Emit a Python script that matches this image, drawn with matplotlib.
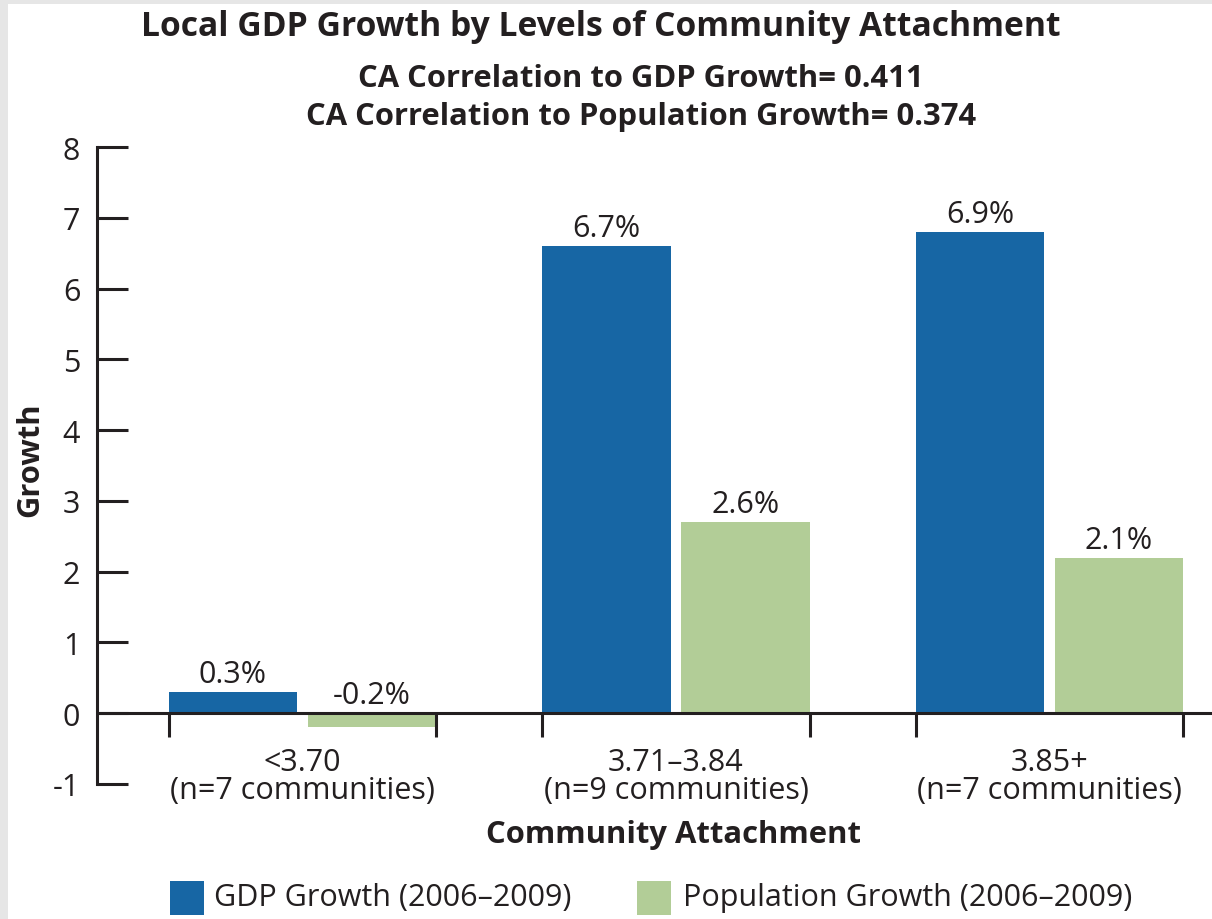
import matplotlib
matplotlib.use('Agg')
import matplotlib.pyplot as plt
import numpy as np
from matplotlib.patches import Rectangle

plt.rcParams['font.family'] = ['Open Sans', 'DejaVu Sans']

# data
groups = ['<3.70\n(n=7 communities)', '3.71\u20133.84\n(n=9 communities)', '3.85+\n(n=7 communities)']
gdp_growth = [0.3, 6.6, 6.8]
pop_growth = [-0.2, 2.7, 2.2]
gdp_labels = ['0.3%', '6.7%', '6.9%']
pop_labels = ['-0.2%', '2.6%', '2.1%']
y_ticks = [-1, 0, 1, 2, 3, 4, 5, 6, 7, 8]
series_names = ['GDP Growth (2006\u20132009)', 'Population Growth (2006\u20132009)']

dark = '#231f20'
blue = '#1766a4'
green = '#b2cd97'
fs = 22

fig = plt.figure(figsize=(12.12, 9.2), dpi=100)
fig.patch.set_facecolor('#e6e6e6')
fig.patches.append(Rectangle((8 / 1212, 0), 1, 1 - 5 / 920, transform=fig.transFigure,
                             facecolor='white', edgecolor='none', zorder=-5))

ax = fig.add_axes([97 / 1212, 1 - 785 / 920, 1 - 97 / 1212, (785 - 148) / 920])
ax.patch.set_alpha(0)
ax.set_zorder(2)

x = np.arange(len(groups))
w = 0.343
off = 0.186
b1 = ax.bar(x - off, gdp_growth, w, color=blue, zorder=2)
b2 = ax.bar(x + off, pop_growth, w, color=green, zorder=2)

for bars, labels in [(b1, gdp_labels), (b2, pop_labels)]:
    for r, lab in zip(bars, labels):
        top = max(r.get_height(), 0)
        ax.annotate(lab, (r.get_x() + r.get_width() / 2, top), xytext=(0, 2),
                    textcoords='offset points', ha='center', va='bottom',
                    fontsize=fs, color=dark)

ax.set_xlim(-0.550, 2.435)
ax.set_ylim(-1, 8)

# zero line and group edge ticks
ax.axhline(0, color=dark, lw=2.2, zorder=3)
edges_l = x - off - w / 2
edges_r = x + off + w / 2
ax.vlines(np.concatenate([edges_l, edges_r]), -0.34, 0, color=dark, lw=2.2, zorder=3)

for xi, g in zip(x, groups):
    ax.text(xi, -0.89, g, ha='center', va='center', fontsize=fs, color=dark, linespacing=0.9)

for s in ['top', 'right', 'bottom']:
    ax.spines[s].set_visible(False)
ax.spines['left'].set_color(dark)
ax.spines['left'].set_linewidth(2.2)
ax.set_xticks([])
ax.set_yticks(y_ticks)
ax.set_yticklabels([str(v) for v in y_ticks])
ax.tick_params(axis='y', direction='in', length=22, width=2.2, color=dark,
               labelsize=fs, labelcolor=dark, pad=12)

fig.text(0.496, 1 - 27 / 920, 'Local GDP Growth by Levels of Community Attachment',
         ha='center', va='center', fontsize=24.2, fontweight='bold', color=dark)
fig.text(0.529, 1 - 79 / 920, 'CA Correlation to GDP Growth= 0.411',
         ha='center', va='center', fontsize=22.3, fontweight='bold', color=dark)
fig.text(0.529, 1 - 117 / 920, 'CA Correlation to Population Growth= 0.374',
         ha='center', va='center', fontsize=22.3, fontweight='bold', color=dark)
fig.text(30 / 1212, 0.5, 'Growth', rotation=90, ha='center', va='center',
         fontsize=22.3, fontweight='bold', color=dark)
fig.text(674 / 1212, 1 - 835 / 920, 'Community Attachment', ha='center', va='center',
         fontsize=22.3, fontweight='bold', color=dark)

# legend drawn by hand at the bottom
for (sx, tx), name, col in zip([(170, 214), (637, 683)], series_names, [blue, green]):
    fig.patches.append(Rectangle((sx / 1212, 1 - 916 / 920), 34 / 1212, 34 / 920,
                                 transform=fig.transFigure, facecolor=col, edgecolor='none'))
    fig.text(tx / 1212, 1 - 898 / 920, name, ha='left', va='center', fontsize=fs, color=dark)

fig.savefig('out.png', dpi=100, facecolor=fig.get_facecolor())
